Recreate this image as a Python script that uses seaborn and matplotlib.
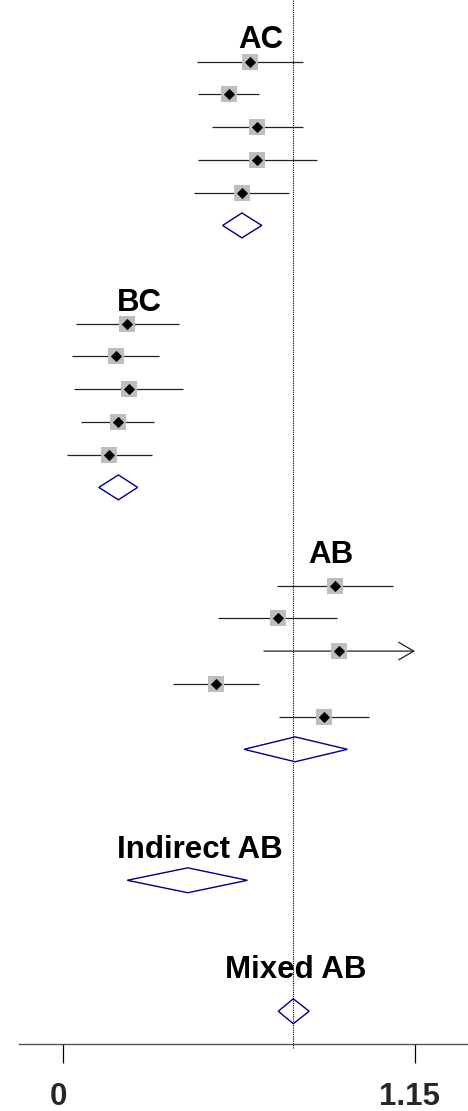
import numpy as np
import pandas as pd
import matplotlib
matplotlib.use("Agg")
import matplotlib.pyplot as plt
import seaborn as sns
from matplotlib.transforms import ScaledTranslation

# ---- data ----
ac_est = [0.611, 0.542, 0.633, 0.633, 0.583]
ac_lo = [0.436, 0.441, 0.487, 0.439, 0.428]
ac_hi = [0.785, 0.641, 0.783, 0.829, 0.739]

bc_est = [0.209, 0.171, 0.214, 0.178, 0.149]
bc_lo = [0.042, 0.028, 0.036, 0.058, 0.011]
bc_hi = [0.379, 0.312, 0.392, 0.297, 0.289]

ab_est = [0.888, 0.702, 0.903, 0.499, 0.852]
ab_lo = [0.700, 0.507, 0.656, 0.360, 0.706]
ab_hi = [1.077, 0.896, 1.250, 0.640, 1.001]

pooled_labels = ["AC", "BC", "AB", "Indirect AB", "Mixed AB"]
pooled_est = [0.584, 0.180, 0.758, 0.407, 0.752]
pooled_lo = [0.521, 0.116, 0.591, 0.209, 0.703]
pooled_hi = [0.649, 0.243, 0.929, 0.602, 0.804]

xticks = [0, 1.15]
xtick_labels = ["0", "1.15"]

# ---- layout (row positions) ----
study_rows = [list(range(2, 7)), list(range(10, 15)), list(range(18, 23))]
pooled_rows = [7, 15, 23, 27, 31]
label_rows = [1.24, 9.28, 16.97, 25.98, 29.65]
label_x = [0.6455, 0.2475, 0.8753, 0.446, 0.761]

rows = sum(study_rows, [])
df = pd.DataFrame({
    "est": ac_est + bc_est + ab_est,
    "lo": ac_lo + bc_lo + ab_lo,
    "hi": ac_hi + bc_hi + ab_hi,
    "row": rows,
})

sns.set_style("white")
plt.rcParams["font.family"] = ["Liberation Sans", "DejaVu Sans"]

fig = plt.figure(figsize=(4.68, 11.11), dpi=100)
ax = fig.add_axes([19 / 468, 67 / 1111, 449 / 468, 1044 / 1111])

xmax_axis = xticks[-1]
line_col = "#222222"
for _, r in df.iterrows():
    hi = min(r["hi"], xmax_axis)
    if r["hi"] > xmax_axis:
        ax.annotate("", xy=(xmax_axis, r["row"]), xytext=(r["lo"], r["row"]),
                    arrowprops=dict(arrowstyle="->,head_length=1.08,head_width=0.63",
                                    color=line_col, lw=0.9, shrinkA=0, shrinkB=0,
                                    mutation_scale=10), zorder=1)
    else:
        ax.hlines(r["row"], r["lo"], hi, color=line_col, lw=0.9, zorder=1)

sns.scatterplot(data=df, x="est", y="row", marker="s", s=133, color="#bebebe",
                linewidth=0, ax=ax, legend=False, zorder=2)
sns.scatterplot(data=df, x="est", y="row", marker="D", s=33, color="black",
                linewidth=0, ax=ax, legend=False, zorder=3)

h = 0.38
for est, lo, hi, rr in zip(pooled_est, pooled_lo, pooled_hi, pooled_rows):
    ax.fill([lo, est, hi, est], [rr, rr - h, rr, rr + h], facecolor="none",
            edgecolor="#000080", lw=1.0, zorder=3)

for lab, lx, ly in zip(pooled_labels, label_x, label_rows):
    ax.text(lx, ly + 0.09, lab, ha="center", va="center", fontsize=22.5,
            fontweight="bold", color="black", zorder=4)

ax.axvline(pooled_est[-1], ymin=-4 / 1044, ymax=1, color="black", lw=0.8,
           ls=(0, (1, 1)), clip_on=False, zorder=0)

ax.set_xlim(-0.145, 1.3234)
ax.set_ylim(32, 0.115)
ax.set_yticks([])
ax.set_xticks(xticks)
ax.set_xticklabels(xtick_labels, fontsize=22.5, fontweight="bold")
ax.tick_params(axis="x", direction="out", length=13.7, width=0.9, color="black",
               pad=13.5, bottom=True)
for lbl in ax.get_xticklabels():
    lbl.set_transform(lbl.get_transform() + ScaledTranslation(-5 / 100, 0, fig.dpi_scale_trans))
ax.set_xlabel("")
ax.set_ylabel("")
for s in ["left", "top", "right"]:
    ax.spines[s].set_visible(False)
ax.spines["bottom"].set_color("#555555")
ax.spines["bottom"].set_linewidth(1.0)
ax.patch.set_alpha(0)

fig.savefig("out.png", dpi=100)
